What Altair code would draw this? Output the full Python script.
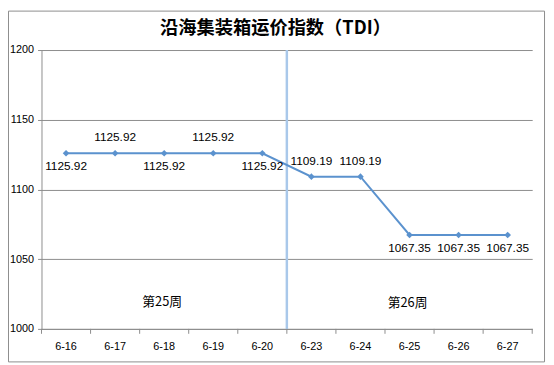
import altair as alt
import pandas as pd

dates = ["6-16", "6-17", "6-18", "6-19", "6-20", "6-23", "6-24", "6-25", "6-26", "6-27"]
values = [1125.92, 1125.92, 1125.92, 1125.92, 1125.92, 1109.19, 1109.19, 1067.35, 1067.35, 1067.35]
label_side = ["below", "above", "below", "above", "below", "above", "above", "below", "below", "below"]
week_names = ["第25周", "第26周"]
week_dates = ["6-18", "6-25"]
week_level = [1019.5, 1018.5]
week_break = ["6-23"]
title_text = "沿海集装箱运价指数（TDI）"

df = pd.DataFrame({"date": dates, "value": values, "side": label_side})
df["label"] = df["value"].map(lambda v: f"{v:.2f}")
wk = pd.DataFrame({"date": week_dates, "week": week_names, "level": week_level})
brk = pd.DataFrame({"date": week_break})
tick_df = pd.DataFrame({"date": dates})
last_df = pd.DataFrame({"date": dates[-1:]})

W, H = 498, 283
PL, PT, PR, PB = 34, 40, 14, 34
LINE = "#5B92CE"
GRAY = "#8C8C8C"

x_enc = alt.X("date:N", sort=dates, title=None,
              scale=alt.Scale(paddingInner=0, paddingOuter=0),
              axis=alt.Axis(labelAngle=0, labelAlign="center", ticks=False, domainColor=GRAY,
                            labelPadding=12, labelBaseline="top",
                            labelFontSize=11, labelColor="#000000", labelFont="Liberation Sans"))
y_enc = alt.Y("value:Q", title=None,
              scale=alt.Scale(domain=[1000, 1200], nice=False, zero=False),
              axis=alt.Axis(values=[1000, 1050, 1100, 1150, 1200], format="d", grid=True,
                            gridColor=GRAY, tickSize=4, tickColor=GRAY, domainColor=GRAY,
                            labelPadding=4, labelFontSize=11, labelColor="#000000",
                            labelFont="Liberation Sans"))

frame = alt.Chart(pd.DataFrame({"a": [0]})).mark_rect(
    fill="transparent", stroke=GRAY, strokeWidth=1
).encode(x=alt.value(-PL + 0.5), x2=alt.value(W + PR - 1.5),
         y=alt.value(-PT + 0.5), y2=alt.value(H + PB - 0.5))

title = alt.Chart(pd.DataFrame({"t": [title_text]})).mark_text(
    font="Noto Sans CJK SC", fontSize=18.5, fontWeight="bold", color="#000000", baseline="middle"
).encode(x=alt.value(237.5), y=alt.value(-22), text="t:N")

xticks = alt.Chart(tick_df).mark_rule(color=GRAY, strokeWidth=1).encode(
    x=alt.X("date:N", sort=dates, bandPosition=0), y=alt.value(H), y2=alt.value(H + 5))
xtick_end = alt.Chart(last_df).mark_rule(color=GRAY, strokeWidth=1).encode(
    x=alt.X("date:N", sort=dates, bandPosition=1), y=alt.value(H), y2=alt.value(H + 5))

base = alt.Chart(df)
line = base.mark_line(color=LINE, strokeWidth=2).encode(x=x_enc, y=y_enc)
pts = base.mark_point(shape="diamond", filled=True, color=LINE, size=45, opacity=1).encode(
    x=alt.X("date:N", sort=dates), y="value:Q")

above = base.transform_filter(alt.datum.side == "above").mark_text(
    dy=-16, fontSize=12, font="Liberation Sans", color="#000000"
).encode(x=alt.X("date:N", sort=dates), y="value:Q", text="label:N")
below = base.transform_filter(alt.datum.side == "below").mark_text(
    dy=13, fontSize=12, font="Liberation Sans", color="#000000"
).encode(x=alt.X("date:N", sort=dates), y="value:Q", text="label:N")

sep = alt.Chart(brk).mark_rule(color="#A9C8EA", strokeWidth=2.5).encode(
    x=alt.X("date:N", sort=dates, bandPosition=0), y=alt.value(0), y2=alt.value(H))

weeks = alt.Chart(wk).mark_text(
    fontSize=13, font="Noto Sans CJK SC", color="#000000", dx=-2, baseline="middle"
).encode(x=alt.X("date:N", sort=dates), y="level:Q", text="week:N")

chart = alt.layer(frame, title, sep, line, pts, xticks, xtick_end, above, below, weeks).properties(
    width=W, height=H,
    padding={"left": PL, "top": PT, "right": PR, "bottom": PB},
    autosize=alt.AutoSizeParams(type="none"),
).configure_view(stroke=None)

chart.save("out.html", embed_options={"renderer": "svg", "actions": False})
